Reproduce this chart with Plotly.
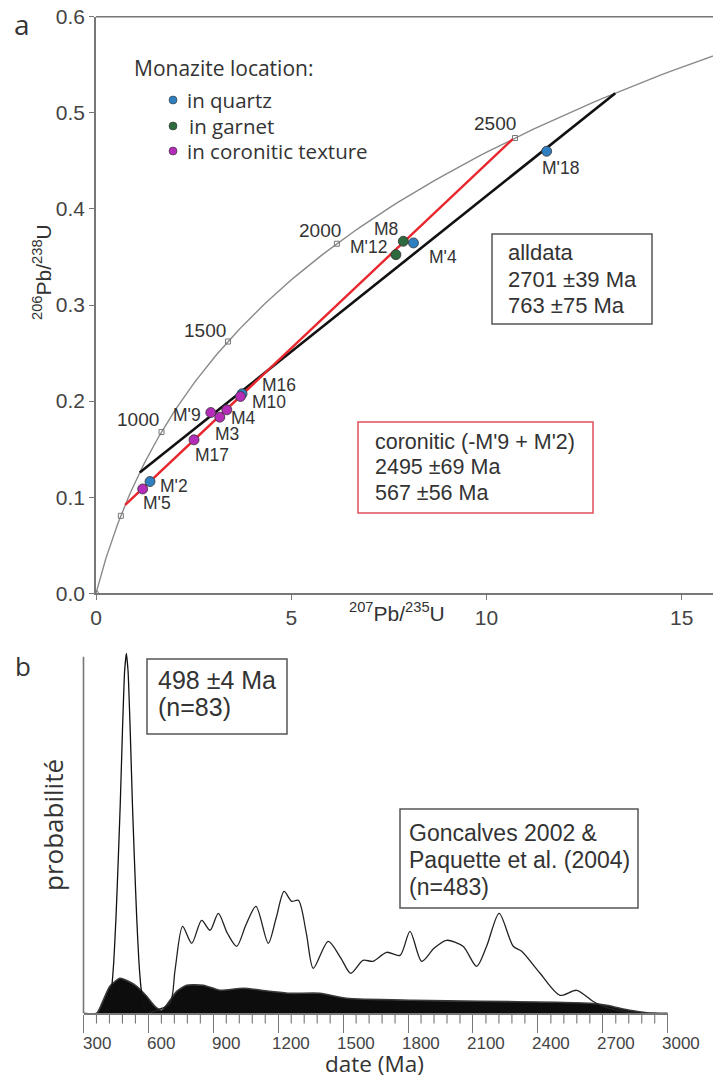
import numpy as np
import plotly.graph_objects as go

W, H = 713, 1082


def px(x):
    return x / W


def py(y):
    return 1 - y / H


# ---------------- Panel a data ----------------
concordia_ages_ma = list(range(0, 3001, 20))
concordia_tick_ages = [500, 1000, 1500, 2000, 2500]
LAMBDA_238 = 1.55125e-4  # per Ma
LAMBDA_235 = 9.8485e-4   # per Ma

discordia_all_ma = [2701, 763]
discordia_cor_ma = [2495, 567]

spot_names = ["M'5", "M'2", "M17", "M'9", "M3", "M4", "M16", "M10", "M'12", "M8", "M'4", "M'18"]
spot_x = [1.196, 1.383, 2.51, 2.94, 3.17, 3.35, 3.74, 3.70, 7.68, 7.87, 8.13, 11.54]
spot_y = [0.1086, 0.1163, 0.1597, 0.1881, 0.1833, 0.1909, 0.2076, 0.2048, 0.3524, 0.3663, 0.3646, 0.460]
spot_loc = ["coronitic", "quartz", "coronitic", "coronitic", "coronitic", "coronitic",
            "quartz", "coronitic", "garnet", "garnet", "quartz", "quartz"]

loc_colors = {"quartz": "#2f7fc1", "garnet": "#2d6a3e", "coronitic": "#b42cb8"}

# ---------------- Panel b data ----------------
peak_age = [388, 408, 420, 430, 440, 450, 460, 470, 480, 490, 498, 506, 516, 526, 536, 546, 556, 566, 576, 588, 608]
peak_prob = [0, 3, 10, 25, 52, 95, 150, 210, 282, 342, 360, 342, 282, 210, 150, 95, 52, 25, 10, 3, 0]

gonc_age = [600, 638, 700, 723, 758, 800, 846, 885, 923, 965, 1008, 1050, 1097, 1154, 1190, 1227, 1262,
            1293, 1330, 1362, 1431, 1490, 1535, 1592, 1638, 1701, 1763, 1809, 1863, 1920, 1978, 2054,
            2117, 2163, 2221, 2286, 2325, 2410, 2502, 2579, 2654, 2700, 2793, 2871, 2950]
gonc_prob = [0, 3, 10, 43, 87, 70, 93, 83, 100, 80, 67, 88, 107, 70, 95, 122, 112,
             113, 80, 45, 72, 55, 40, 53, 52, 61, 58, 82, 52, 65, 73, 67,
             47, 67, 100, 67, 62, 40, 18, 23, 12, 7, 2, 0, 0]

band_age = [300, 361, 391, 422, 469, 507, 546, 592, 630, 661, 700, 731, 777, 854, 931, 1038, 1162,
            1254, 1393, 1516, 1824, 2132, 2487, 2641, 2718, 2825, 2903, 3000]
band_prob = [0, 0, 13, 27, 35, 32, 27, 17, 7, 3, 13, 22, 28, 28, 23, 25, 22,
             20, 20, 15, 13, 12, 11, 10, 8, 3, 0.6, 0]

date_ticks = [300, 600, 900, 1200, 1500, 1800, 2100, 2400, 2700, 3000]
date_minor_ticks = [a for a in range(300, 3001, 60) if a not in date_ticks]


def concordia(t):
    t = np.asarray(t, dtype=float)
    return np.exp(LAMBDA_235 * t) - 1, np.exp(LAMBDA_238 * t) - 1


fig = go.Figure()

AX = "#777777"
TXT = "#444444"
SANS = "Liberation Sans, Arial, sans-serif"
MYR = "Open Sans, sans-serif"

# concordia
cx, cy = concordia(concordia_ages_ma)
fig.add_trace(go.Scatter(x=cx, y=cy, mode="lines", line=dict(color="#8a8a8a", width=1.4),
                         hoverinfo="skip", showlegend=False, xaxis="x", yaxis="y"))
tx, ty = concordia(concordia_tick_ages)
fig.add_trace(go.Scatter(x=tx, y=ty, mode="markers",
                         marker=dict(symbol="square-open", size=5, color="#777777", line=dict(width=1)),
                         showlegend=False, xaxis="x", yaxis="y"))
fig.add_trace(go.Scatter(x=[0], y=[0], mode="markers",
                         marker=dict(symbol="circle-open", size=5, color="#777777"),
                         showlegend=False, xaxis="x", yaxis="y"))

# discordia lines
dx, dy = concordia(discordia_all_ma)
fig.add_trace(go.Scatter(x=dx, y=dy, mode="lines", line=dict(color="#111111", width=2.6),
                         showlegend=False, xaxis="x", yaxis="y"))
rx, ry = concordia(discordia_cor_ma)
fig.add_trace(go.Scatter(x=rx, y=ry, mode="lines", line=dict(color="#e8262d", width=2.4),
                         showlegend=False, xaxis="x", yaxis="y"))

# spots
fig.add_trace(go.Scatter(x=spot_x, y=spot_y, mode="markers",
                         marker=dict(size=10, color=[loc_colors[l] for l in spot_loc],
                                     line=dict(color="#333333", width=0.8)),
                         text=spot_names, showlegend=False, xaxis="x", yaxis="y"))

# ---------------- Panel b traces ----------------
fig.add_trace(go.Scatter(x=band_age, y=band_prob, mode="lines", fill="tozeroy",
                         fillcolor="#0d0d0d", line=dict(color="#3a3a3a", width=1.6, shape="spline", smoothing=0.6),
                         showlegend=False, xaxis="x2", yaxis="y2"))
fig.add_trace(go.Scatter(x=peak_age, y=peak_prob, mode="lines",
                         line=dict(color="#111111", width=1.3, shape="spline", smoothing=0.5),
                         showlegend=False, xaxis="x2", yaxis="y2"))
fig.add_trace(go.Scatter(x=gonc_age, y=gonc_prob, mode="lines",
                         line=dict(color="#222222", width=1.3, shape="spline", smoothing=0.8),
                         showlegend=False, xaxis="x2", yaxis="y2"))

annotations = []


def ann(text, x, y, size, xanchor="left", yanchor="middle", font=SANS, color="#333333", angle=0):
    annotations.append(dict(text=text, x=px(x), y=py(y), xref="paper", yref="paper",
                            xanchor=xanchor, yanchor=yanchor, showarrow=False, textangle=angle,
                            font=dict(size=size, family=font, color=color)))


# panel labels
ann("a", 22, 24, 28, "center", font=MYR, color="#333")
ann("b", 23, 666, 26, "center", font=MYR, color="#333")

# legend text
ann("Monazite location:", 132, 68, 21, font=MYR)
ann("in quartz", 185, 100, 20.5, font=MYR)
ann("in garnet", 187, 126, 20.5, font=MYR)
ann("in coronitic texture", 185, 151, 20.5, font=MYR)

# concordia age labels
ann("2500", 495, 123, 19, "center")
ann("2000", 320, 230, 19, "center")
ann("1500", 205, 330, 19, "center")
ann("1000", 138, 419, 19, "center")

# spot labels
spot_label_px = {"M'18": (560, 168), "M8": (386, 229), "M'12": (368, 247), "M'4": (443, 257),
                 "M'9": (187, 415), "M4": (243, 418), "M3": (227, 434), "M17": (212, 455),
                 "M16": (279, 385), "M10": (269, 402), "M'2": (174, 486), "M'5": (157, 503)}
for name, (lx, ly) in spot_label_px.items():
    ann(name, lx, ly, 17.5, "center")

# boxes text
ann("alldata", 506, 252, 22)
ann("2701 ±39 Ma", 506, 279, 22)
ann("763 ±75 Ma", 506, 305, 22)
ann("coronitic (-M'9 + M'2)", 373, 442, 21.5)
ann("2495 ±69 Ma", 373, 467, 21.5)
ann("567 ±56 Ma", 373, 493, 21.5)

ann("498 ±4 Ma", 156, 680, 25)
ann("(n=83)", 156, 707, 25)
ann("Goncalves 2002 &", 407, 833, 23)
ann("Paquette et al. (2004)", 407, 860, 23)
ann("(n=483)", 407, 887, 23)

# date tick labels (drawn shifted right of ticks as in the reference)
for a in date_ticks:
    annotations.append(dict(text=str(a), x=a, y=0, xref="x2", yref="y2", xanchor="center", yanchor="top",
                            xshift=13, yshift=-19, showarrow=False,
                            font=dict(size=17, family=SANS, color=TXT)))

# axis titles
ann("<sup>206</sup>Pb/<sup>238</sup>U", 42, 272, 21, "center", angle=-90)
ann("<sup>207</sup>Pb/<sup>235</sup>U", 397, 612, 21, "center")
ann("probabilité", 53, 825, 26, "center", font=MYR, angle=-90)
ann("date (Ma)", 374, 1081, 22.5, "center", yanchor="bottom", font=MYR)

shapes = [
    dict(type="line", xref="paper", yref="paper", x0=px(96), x1=1.0, y0=py(16.7), y1=py(16.7),
         line=dict(color=AX, width=1.6)),
    dict(type="rect", xref="paper", yref="paper", x0=px(492), x1=px(652), y0=py(234), y1=py(324),
         line=dict(color="#555555", width=1.5)),
    dict(type="rect", xref="paper", yref="paper", x0=px(358), x1=px(593), y0=py(422), y1=py(513),
         line=dict(color="#e0505a", width=1.5)),
    dict(type="rect", xref="paper", yref="paper", x0=px(147), x1=px(287), y0=py(659), y1=py(734),
         line=dict(color="#555555", width=1.5)),
    dict(type="rect", xref="paper", yref="paper", x0=px(400), x1=px(638), y0=py(809), y1=py(908),
         line=dict(color="#555555", width=1.5)),
    dict(type="line", xref="paper", yref="paper", x0=px(83.5), x1=px(83.5), y0=py(1013.3), y1=py(656.7),
         line=dict(color=AX, width=1.6)),
]

# legend dots as shapes
for loc, yy in [("quartz", 100), ("garnet", 126), ("coronitic", 151)]:
    shapes.append(dict(type="circle", xref="paper", yref="paper",
                       x0=px(169), x1=px(177), y0=py(yy + 4), y1=py(yy - 4),
                       fillcolor=loc_colors[loc], line=dict(color="#333", width=0.6)))

# minor ticks for date axis
for a in date_minor_ticks:
    shapes.append(dict(type="line", xref="x2", yref="paper", x0=a, x1=a,
                       y0=py(1013.3), y1=py(1023.5), line=dict(color=AX, width=1.1)))

fig.update_layout(
    width=W, height=H, margin=dict(l=0, r=0, t=0, b=0, autoexpand=False),
    paper_bgcolor="white", plot_bgcolor="white",
    showlegend=False,
    xaxis=dict(domain=[px(96), 1.0], range=[0, (713 - 96) / 39.05], anchor="y", automargin=False,
               tickvals=[0, 5, 10, 15], ticks="outside", ticklen=5, tickcolor=AX, tickwidth=1.3,
               showline=True, linecolor=AX, linewidth=1.6, showgrid=False, zeroline=False,
               tickfont=dict(size=21, family=SANS, color=TXT)),
    yaxis=dict(domain=[py(593.3), py(16.7)], range=[0, 0.6], anchor="x", automargin=False,
               tickvals=[0, 0.1, 0.2, 0.3, 0.4, 0.5, 0.6], ticktext=["0.0", "0.1", "0.2", "0.3", "0.4", "0.5", "0.6"],
               ticks="outside", ticklen=5, tickcolor=AX, tickwidth=1.3,
               showline=True, linecolor=AX, linewidth=1.6, showgrid=False, zeroline=False,
               tickfont=dict(size=21, family=SANS, color=TXT)),
    xaxis2=dict(domain=[px(83.5), px(667.7)], range=[300, 3000], anchor="y2", automargin=False,
                tickvals=date_ticks, ticks="outside", ticklen=18, tickcolor=AX, tickwidth=1.3,
                showticklabels=False,
                showline=True, linecolor=AX, linewidth=1.6, showgrid=False, zeroline=False),
    yaxis2=dict(domain=[py(1013.3), py(651.3)], range=[0, 362], anchor="x2", automargin=False,
                showticklabels=False, ticks="", showline=False, showgrid=False, zeroline=False),
    annotations=annotations,
    shapes=shapes,
)

fig.write_html("out.html", config={"displayModeBar": False},
               post_script="document.body.style.margin='0px';")
